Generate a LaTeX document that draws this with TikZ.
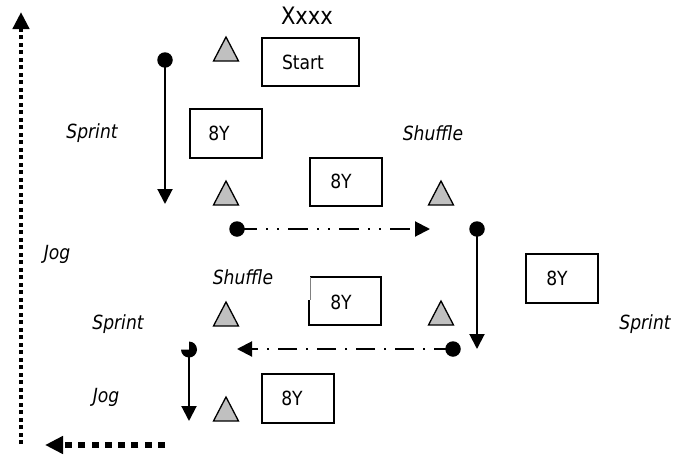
\documentclass[tikz,border=0pt]{standalone}
\usepackage{fontspec}
\setmainfont{DejaVu Sans}[FakeStretch=0.88]
\usetikzlibrary{arrows.meta}
\definecolor{conegray}{HTML}{C0C0C0}
\tikzset{
  x=1pt, y=-1pt,
  yard/.style={draw=black, line width=1.5pt, minimum width=72pt, minimum height=49pt, inner sep=0pt, anchor=north west},
  lbl/.style={font=\fontsize{19.5}{22}\selectfont, inner sep=0pt},
  ital/.style={font=\fontsize{19.5}{22}\selectfont\itshape, inner sep=0pt},
  cone/.style={draw=black, fill=conegray, line width=1.3pt, line join=miter},
  dotn/.style={circle, fill=black, minimum size=15.5pt, inner sep=0pt},
  runline/.style={line width=2pt, -{Triangle[length=15pt,width=15pt]}},
  ddline/.style={line width=2pt, dash pattern=on 20pt off 9pt on 2pt off 9pt on 2pt off 9pt, -{Triangle[length=15pt,width=15pt]}},
  dline/.style={line width=2pt, dash pattern=on 19pt off 9pt on 2pt off 9pt, -{Triangle[length=15pt,width=15pt]}},
  jogv/.style={line width=4.5pt, dash pattern=on 4pt off 3.5pt, -{Triangle[length=17pt,width=16pt]}},
  jogh/.style={line width=6.5pt, dash pattern=on 7pt off 6.3pt, -{Triangle[length=18pt,width=17pt]}},
}
\begin{document}
\begin{tikzpicture}
\useasboundingbox (0,0) rectangle (677,455);

% title
\node[font=\fontsize{24}{26}\selectfont, inner sep=0pt] (title) at (307,16) {Xxxx};

% boxes
\node[yard, minimum width=97pt, minimum height=48pt] (start) at (261,37) {};
\node[lbl] (starttxt) at (303,62) {Start};
\node[yard] (b1) at (189,108) {};
\node[lbl] (b1t) at (219,133) {8Y};
\node[yard, minimum height=48pt] (b2) at (309,157) {};
\node[lbl] (b2t) at (341,181) {8Y};
\node[yard] (b3) at (525,253) {};
\node[lbl] (b3t) at (557,278) {8Y};
\node[lbl] (b4t) at (341,302) {8Y};
\node[yard] (b5) at (261,373) {};
\node[lbl] (b5t) at (292,398) {8Y};
% box 4 with a partly grey left edge
\draw[line width=1.5pt] (309,300) -- (309,325) -- (381,325) -- (381,277) -- (310,277);
\draw[line width=0.6pt, gray] (310.5,277) -- (310.5,300);

% cones
\foreach \cx/\cy in {226/37, 226/181, 441/181, 226/302, 441/301, 226/397}
  \draw[cone] (\cx-12.5,\cy+24) -- (\cx,\cy) -- (\cx+12.5,\cy+24) -- cycle;

% labels
\node[ital] (l1) at (92,133) {Sprint};
\node[ital] (l2) at (433,133) {Shuffle};
\node[ital] (l3) at (57,254) {Jog};
\node[ital] (l4) at (243,277) {Shuffle};
\node[ital] (l5) at (118,324) {Sprint};
\node[ital] (l6) at (645,324) {Sprint};
\node[ital] (l7) at (106,397) {Jog};

% dots and tips
\node[dotn] (d1) at (165,60) {};
\coordinate (t1) at (165,204);
\node[dotn] (d2) at (237,229) {};
\coordinate (t2) at (430,229);
\node[dotn] (d3) at (477,229) {};
\coordinate (t3) at (477,349);
\node[dotn] (d4) at (453,349) {};
\coordinate (t4) at (237,349);
\coordinate (d5) at (189,349.5);
\coordinate (t5) at (189,421);

\draw[runline] (d1.center) -- (t1);
\draw[ddline] (d2.center) -- (t2);
\draw[runline] (d3.center) -- (t3);
\draw[dline] (d4.center) -- (t4);
\draw[runline] (d5) -- (t5);
\fill (d5) -- ++(0,-8) arc[start angle=90, end angle=-180, radius=8pt] -- cycle;

% jog lines
\coordinate (jv0) at (21,444);
\coordinate (jv1) at (21,12);
\draw[jogv] (jv0) -- (jv1);
\coordinate (jh0) at (165,445);
\coordinate (jh1) at (45,445);
\draw[jogh] (jh0) -- (jh1);
\end{tikzpicture}
\end{document}
